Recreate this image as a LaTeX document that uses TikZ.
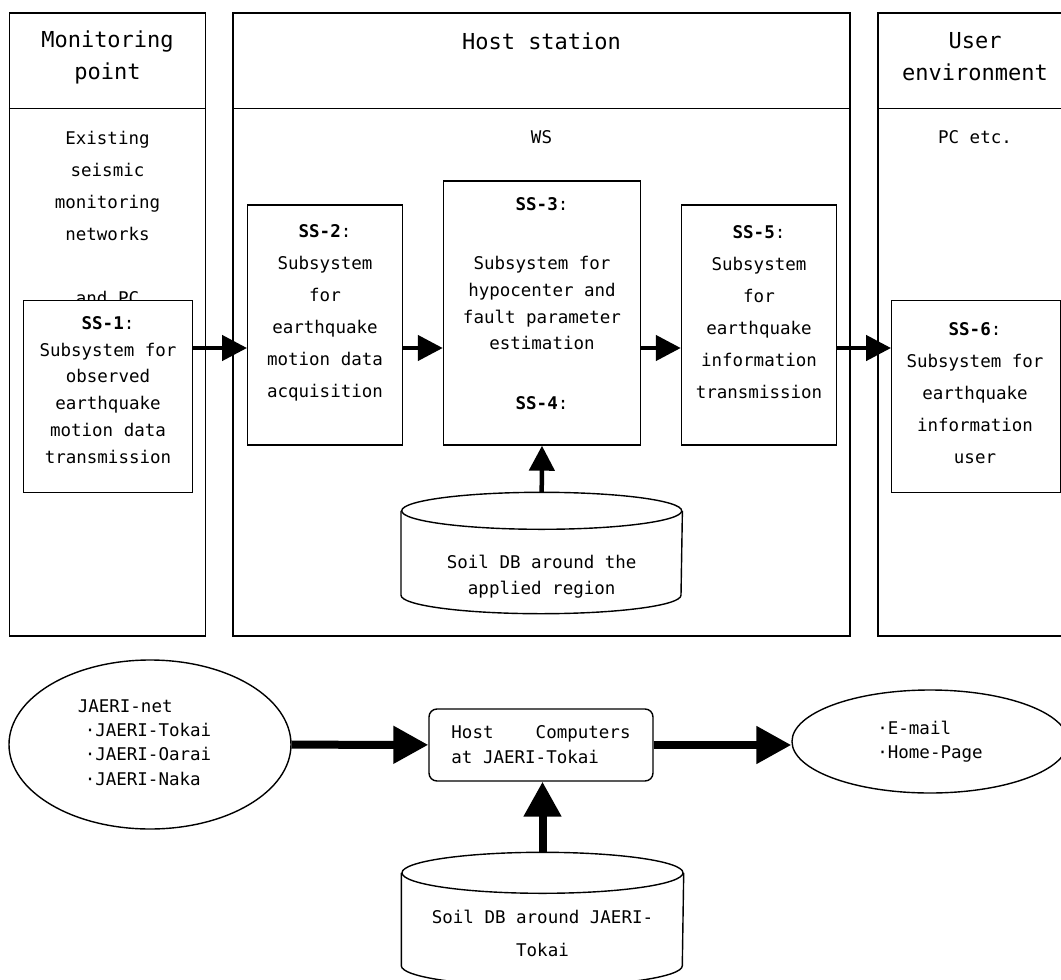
\documentclass[tikz,border=0pt]{standalone}
\usepackage{fontspec}
\setmainfont{DejaVu Sans Mono}
\usetikzlibrary{shapes}
\usetikzlibrary{calc}
\usetikzlibrary{positioning}
\usetikzlibrary{arrows.meta}
\providecommand*{\pgfmathsetnewmacro}[2]{%
    \newcommand*{#1}{}%
    \pgfmathsetmacro{#1}{#2}%
}

\begin{document}
\begin{tikzpicture}[x = 1pt, y = -1pt, black, line width = 1.4pt,
    column/.style = {draw, rectangle, minimum width = 196pt, minimum height = 623pt, inner sep = 0pt},
    head/.style = {font = \fontsize{22}{32}\selectfont, align = center, inner sep = 0pt},
    txt/.style = {font = \fontsize{17.5}{#1}\selectfont, align = center, inner sep = 0pt},
    txt/.default = 32,
    ssbox/.style = {draw, rectangle, fill = white, inner sep = 0pt},
    dbnode/.style = {rectangle, inner sep = 0pt, minimum width = 280pt},
    thinarrow/.style = {-{Triangle[length = 25pt, width = 25pt]}, line width = 4.5pt},
    fatarrow/.style = {-{Triangle[length = 35pt, width = 36pt]}, line width = 8pt},
]
    \pgfmathsetnewmacro{\flowy}{348}
    \useasboundingbox[clip] (0,0) rectangle (1061,980);

    %\draw[help lines, opacity = 0.1] (0,0) grid[step = 50] (1061,980);

    % columns
    \node[column] (mon) at (107.5,324.5) {};
    \node[column, minimum width = 617pt] (host) at (541.5,324.5) {};
    \node[column] (user) at (976,324.5) {};

    \coordinate (hd) at (0,108.5);
    \foreach \c in {mon, host, user}
        \draw (\c.west |- hd) -- (\c.east |- hd);

    \node[head] (monhead) at (107.5,57) {Monitoring\\point};
    \node[head] (hosthead) at (541.5,41) {Host station};
    \node[head] (userhead) at (975,57) {User\\environment};

    \node[txt] (montxt) at (107.5,218) {Existing\\seismic\\monitoring\\networks\\[32pt]and PC};
    \node[txt] (ws) at (541.5,137) {WS};
    \node[txt] (pc) at (975,137) {PC etc.};

    % subsystems
    \node[ssbox, minimum width = 169pt, minimum height = 192pt] (ss1) at (108.2,396.7) {};
    \node[ssbox, minimum width = 154.5pt, minimum height = 240pt] (ss2) at (325,325) {};
    \node[ssbox, minimum width = 197pt, minimum height = 264pt] (ss3) at (542,313) {};
    \node[ssbox, minimum width = 155pt, minimum height = 240pt] (ss5) at (759,325) {};
    \node[ssbox, minimum width = 168.5pt, minimum height = 192pt] (ss6) at (976,396.7) {};

    \node[txt = 26.8] (ss1txt) at (108,390) {\textbf{SS-1}:\\Subsystem for\\observed\\earthquake\\motion data\\transmission};
    \node[txt] (ss2txt) at (325,312.5) {\textbf{SS-2}:\\Subsystem\\for\\earthquake\\motion data\\acquisition};
    \node[txt = 26.7] (ss3txt) at (542,303.5) {\textbf{SS-3}:\\[32.5pt]Subsystem for\\hypocenter and\\fault parameter\\estimation\\[32.5pt]\textbf{SS-4}:};
    \node[txt] (ss5txt) at (759,312.5) {\textbf{SS-5}:\\Subsystem\\for\\earthquake\\information\\transmission};
    \node[txt] (ss6txt) at (975,393) {\textbf{SS-6}:\\Subsystem for\\earthquake\\information\\user};

    \coordinate (flow) at (0,\flowy);
    \draw[thinarrow] (ss1.east |- flow) -- (ss2.west |- flow);
    \draw[thinarrow] (ss2.east |- flow) -- (ss3.west |- flow);
    \draw[thinarrow] (ss3.east |- flow) -- (ss5.west |- flow);
    \draw[thinarrow] (ss5.east |- flow) -- (ss6.west |- flow);

    % soil database
    \node[dbnode, minimum height = 120pt] (db1) at (541.7,553) {};
    \draw ($(db1.north)+(0,18.5)$) ellipse [x radius = 140pt, y radius = 18.5pt];
    \draw ($(db1.north west)+(0,18.5)$) -- ($(db1.south west)+(0,-18.5)$)
        arc [start angle = 180, end angle = 360, x radius = 140pt, y radius = 18.5pt]
        -- ($(db1.north east)+(0,18.5)$);
    \node[txt = 26.5] (db1txt) at (541.7,576.5) {Soil DB around the\\applied region};

    \draw[thinarrow] (db1.north) -- (ss3.south);

    % JAERI network
    \node[draw, ellipse, minimum width = 282pt, minimum height = 169pt, inner sep = 0pt] (jaeri) at (150,744.5) {};
    \node[align = left, inner sep = 0pt, font = \fontsize{17.5}{24.4}\selectfont] (jaeritxt) at (144.5,742.5)
        {JAERI-net\\\hspace*{7pt}·JAERI-Tokai\\\hspace*{7pt}·JAERI-Oarai\\\hspace*{7pt}·JAERI-Naka};

    \node[draw, rectangle, rounded corners = 8pt, minimum width = 224pt, minimum height = 72pt,
        inner sep = 0pt, align = left, font = \fontsize{17.5}{25}\selectfont] (hostpc) at (541,745)
        {Host\ \ \ \ Computers\\at JAERI-Tokai};

    \node[draw, ellipse, minimum width = 276pt, minimum height = 103pt, inner sep = 0pt,
        align = left, font = \fontsize{17.5}{24}\selectfont] (mail) at (930,741.5)
        {·E-mail\\·Home-Page};

    \node[dbnode, minimum width = 281pt, minimum height = 132.5pt] (db2) at (542.5,919.25) {};
    \draw ($(db2.north)+(0,20.5)$) ellipse [x radius = 140.5pt, y radius = 20.5pt];
    \draw ($(db2.north west)+(0,20.5)$) -- ($(db2.south west)+(0,-20.5)$)
        arc [start angle = 180, end angle = 360, x radius = 140.5pt, y radius = 20.5pt]
        -- ($(db2.north east)+(0,20.5)$);
    \node[txt = 33] (db2txt) at (542.5,933.5) {Soil DB around JAERI-\\Tokai};

    \draw[fatarrow] (jaeri) -- (hostpc);
    \draw[fatarrow] (hostpc.east) -- (mail.west |- hostpc.east);
    \draw[fatarrow] (db2.north) -- (db2.north |- hostpc.south);

\end{tikzpicture}
\end{document}
